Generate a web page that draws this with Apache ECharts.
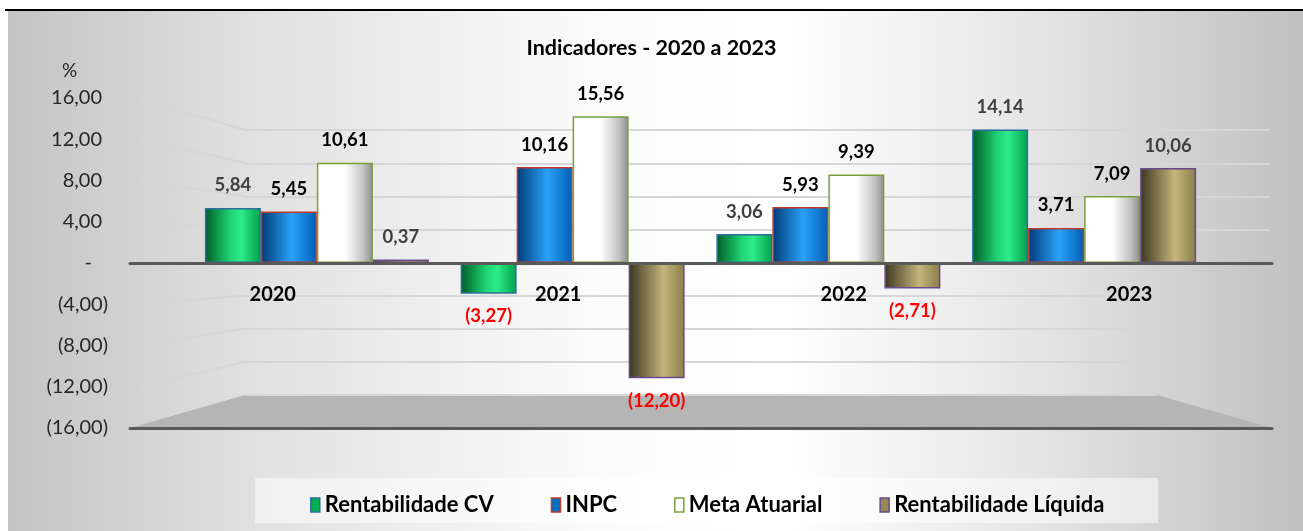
<!DOCTYPE html>
<html>
<head>
<meta charset="utf-8">
<title>Indicadores - 2020 a 2023</title>
<script src="https://cdn.jsdelivr.net/npm/echarts@6/dist/echarts.min.js"></script>
<style>
  html, body { margin: 0; padding: 0; background: #fff; }
  #chart { width: 1303px; height: 531px; }
</style>
</head>
<body>
<div id="chart"></div>
<script>
const years = ["2020", "2021", "2022", "2023"];
const seriesNames = ["Rentabilidade CV", "INPC", "Meta Atuarial", "Rentabilidade Líquida"];
const rentabilidadeCV = [5.84, -3.27, 3.06, 14.14];
const inpc = [5.45, 10.16, 5.93, 3.71];
const metaAtuarial = [10.61, 15.56, 9.39, 7.09];
const rentabilidadeLiquida = [0.37, -12.20, -2.71, 10.06];
const yTicks = [-16, -12, -8, -4, 0, 4, 8, 12, 16];

const FONT = "Lato";

function fmt(v) {
  return Math.abs(v).toFixed(2).replace(".", ",");
}

function grad(stops) {
  return {
    type: "linear", x: 0, y: 0, x2: 1, y2: 0,
    colorStops: stops.map(s => ({ offset: s[0], color: s[1] }))
  };
}

// look of each series (cylinder-ish shading)
const looks = [
  { fill: grad([[0, "#005c28"], [0.45, "#1fd374"], [0.65, "#2eec88"], [1, "#00a04a"]]), border: "#2e6da4", icon: "#00b050", label: "#404040" },
  { fill: grad([[0, "#003a78"], [0.55, "#2aa2f8"], [1, "#005eb6"]]), border: "#c0392b", icon: "#0070c0", label: "#000" },
  { fill: grad([[0, "#ffffff"], [0.5, "#ffffff"], [0.82, "#c4c4c4"], [1, "#8c8c8c"]]), border: "#77a03c", icon: "#ffffff", label: "#000" },
  { fill: grad([[0, "#3c3620"], [0.62, "#c2b67c"], [1, "#8a7e4a"]]), border: "#6a4a8c", icon: "#948a54", label: "#404040" }
];

const values = [rentabilidadeCV, inpc, metaAtuarial, rentabilidadeLiquida];

const barSeries = values.map((arr, i) => ({
  name: seriesNames[i],
  type: "bar",
  xAxisIndex: 3,
  yAxisIndex: 3,
  barWidth: 56,
  barGap: "0%",
  itemStyle: { color: looks[i].fill, borderColor: looks[i].border, borderWidth: 1.5 },
  label: {
    show: true,
    position: "top",
    distance: 13,
    fontFamily: FONT,
    fontWeight: "bold",
    fontSize: 18.5,
    color: looks[i].label,
    formatter: p => p.value < 0 ? "(" + fmt(p.value) + ")" : fmt(p.value)
  },
  data: arr.map(v => v < 0 ? { value: v, label: { position: "bottom", color: "#ff0000" } } : v)
}));

const chart = echarts.init(document.getElementById("chart"));

// 3D side wall lines, decoration only
const wallLines = [];
for (let i = 0; i < yTicks.length; i++) {
  const yl = 98 + i * 41.25;
  const yw = 130 + i * 33.1;
  if (i === 4 || i === 8) continue;
  wallLines.push({
    type: "line",
    shape: { x1: 140, y1: yl, x2: 245, y2: yw },
    style: { stroke: "#d6d6d6", lineWidth: 2 },
    z: 0
  });
}

chart.setOption({
  backgroundColor: "#ffffff",
  animation: false,
  title: [
    {
      text: "Indicadores - 2020 a 2023",
      left: "center",
      top: 32,
      textStyle: { fontFamily: FONT, fontWeight: "bold", fontSize: 21.5, color: "#000" }
    },
    {
      text: "%",
      left: 57,
      top: 56,
      textStyle: { fontFamily: FONT, fontWeight: "normal", fontSize: 19, color: "#262626" }
    }
  ],
  graphic: [
    {
      type: "rect",
      shape: { x: 8, y: 11, width: 1295, height: 520 },
      style: {
        fill: grad([[0, "#c4c4c4"], [0.2, "#e2e2e2"], [0.45, "#fbfbfb"], [0.6, "#ffffff"], [0.8, "#e4e4e4"], [1, "#c0c0c0"]])
      },
      z: -10
    },
    {
      type: "line",
      shape: { x1: 5, y1: 10, x2: 1303, y2: 10 },
      style: { stroke: "#000", lineWidth: 2 },
      z: 10
    },
    {
      type: "polygon",
      shape: { points: [[130, 428], [245, 395], [1157, 395], [1272, 428]] },
      style: { fill: "#b5b5b5" },
      z: 0
    },
    {
      type: "rect",
      shape: { x: 255, y: 478, width: 903, height: 45 },
      style: { fill: "rgba(255,255,255,0.5)" },
      z: 0
    }
  ].concat(wallLines),
  legend: {
    left: 305,
    top: 489,
    itemWidth: 9,
    itemHeight: 14,
    itemGap: 57,
    icon: "rect",
    textStyle: { fontFamily: FONT, fontWeight: "bold", fontSize: 22, color: "#000" },
    data: seriesNames.map((n, i) => ({
      name: n,
      itemStyle: { color: looks[i].icon, borderColor: looks[i].border, borderWidth: 1.5 }
    }))
  },
  grid: [
    { left: 130, right: 31, top: 98, bottom: 103 },
    { left: 245, right: 33, top: 130, height: 133 },
    { left: 245, right: 146, top: 263, height: 132 },
    { left: 189, right: 91, top: 112, bottom: 117 },
    { left: 130, right: 31, top: 98, bottom: 103 }
  ],
  xAxis: [
    {
      // zero line
      gridIndex: 0,
      type: "category",
      data: years,
      axisLine: { onZero: true, lineStyle: { color: "#595959", width: 3 } },
      axisTick: { show: false },
      axisLabel: { show: false },
      z: 5
    },
    { gridIndex: 1, type: "category", data: years, show: false },
    { gridIndex: 2, type: "category", data: years, show: false },
    { gridIndex: 3, type: "category", data: years, show: false },
    {
      // floor front edge
      gridIndex: 4,
      type: "category",
      data: years,
      axisLine: { onZero: false, lineStyle: { color: "#595959", width: 3 } },
      axisTick: { show: false },
      axisLabel: { show: false },
      z: 5
    },
    {
      // year labels just under the zero line
      gridIndex: 4,
      type: "category",
      data: years,
      position: "bottom",
      offset: -165,
      axisLine: { show: false, onZero: false },
      axisTick: { show: false },
      axisLabel: { margin: 22, fontFamily: FONT, fontWeight: "bold", fontSize: 20, color: "#000" },
      z: 5
    }
  ],
  yAxis: [
    {
      gridIndex: 0,
      type: "value",
      min: -16,
      max: 16,
      interval: 4,
      axisLine: { show: false },
      axisTick: { show: false },
      splitLine: { show: false },
      axisLabel: {
        margin: 22,
        fontFamily: FONT,
        fontSize: 20,
        color: "#262626",
        formatter: v => v === 0 ? "{d|-}" : (v < 0 ? "(" + fmt(v) + ")" : "{p|" + fmt(v) + "}"),
        rich: {
          p: { fontFamily: FONT, fontSize: 20, color: "#262626", padding: [0, 6, 0, 0] },
          d: { fontFamily: FONT, fontSize: 20, color: "#262626", padding: [0, 16, 0, 0] }
        }
      }
    },
    {
      gridIndex: 1, type: "value", min: 0, max: 16, interval: 4,
      axisLine: { show: false }, axisTick: { show: false }, axisLabel: { show: false },
      splitLine: { lineStyle: { color: "#d6d6d6", width: 2 } }
    },
    {
      gridIndex: 2, type: "value", min: -16, max: 0, interval: 4,
      axisLine: { show: false }, axisTick: { show: false }, axisLabel: { show: false },
      splitLine: { lineStyle: { color: "#d6d6d6", width: 2 } }
    },
    { gridIndex: 3, type: "value", min: -16, max: 16, interval: 4, show: false },
    { gridIndex: 4, type: "value", min: -16, max: 16, interval: 4, show: false }
  ],
  series: barSeries
});
</script>
</body>
</html>
